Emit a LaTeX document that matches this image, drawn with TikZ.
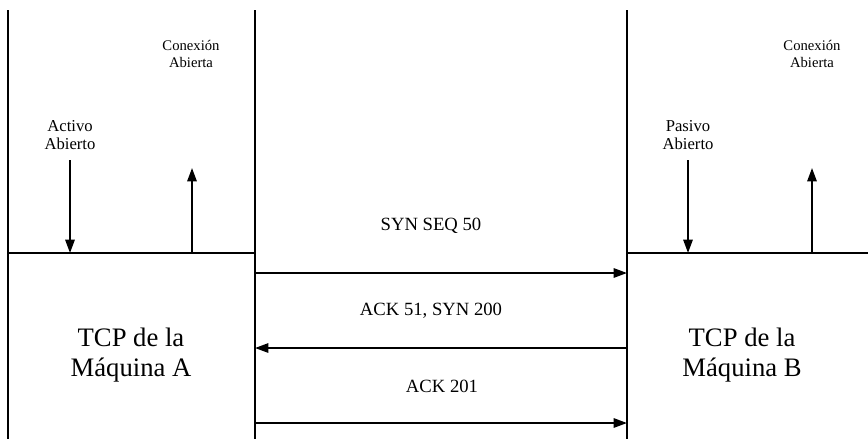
\documentclass[tikz,border=0pt]{standalone}
\usepackage{fontspec}
\setmainfont{Liberation Serif}
\usetikzlibrary{arrows.meta}
\begin{document}
\begin{tikzpicture}[x=0.75pt, y=-0.75pt, line width=1.4pt,
		msg/.style={-{Triangle[length=10pt, width=7pt]}},
		lbl/.style={align=center, inner sep=0pt, font=\fontsize{12.5}{13}\selectfont},
		clbl/.style={align=center, inner sep=0pt, font=\fontsize{11}{13}\selectfont},
		tcp/.style={align=center, inner sep=0pt, font=\fontsize{20}{22.5}\selectfont},
		txt/.style={inner sep=0pt, font=\fontsize{14}{16}\selectfont}]
			\useasboundingbox (0,0) rectangle (868,439);
			\def\Top{10}
			\def\Bot{439}
			\def\Mid{253}
			% host A
			\coordinate (A1) at (8,\Top);
			\coordinate (A2) at (8,\Bot);
			\coordinate (A3) at (255,\Top);
			\coordinate (A4) at (255,\Bot);
			\coordinate (A5) at (8,\Mid);
			\coordinate (A6) at (255,\Mid);
			\draw (A1) -- (A2);
			\draw (A3) -- (A4);
			\draw (A5) -- (A6);
			% host B
			\coordinate (B1) at (627,\Top);
			\coordinate (B2) at (627,\Bot);
			\coordinate (B5) at (627,\Mid);
			\coordinate (B6) at (868,\Mid);
			\draw (B1) -- (B2);
			\draw (B5) -- (B6);
			% local events
			\node[lbl] (actA) at (70,135) {Activo\\Abierto};
			\node[clbl] (conA) at (191,54) {Conexión\\Abierta};
			\node[lbl] (pasB) at (688,135) {Pasivo\\Abierto};
			\node[clbl] (conB) at (812,54) {Conexión\\Abierta};
			\coordinate (a1) at (70,160);
			\coordinate (a2) at (70,\Mid);
			\coordinate (c1) at (192,\Mid);
			\coordinate (c2) at (192,168);
			\coordinate (p1) at (688,160);
			\coordinate (p2) at (688,\Mid);
			\coordinate (d1) at (812,\Mid);
			\coordinate (d2) at (812,168);
			\draw[msg] (a1) -- (a2);
			\draw[msg] (c1) -- (c2);
			\draw[msg] (p1) -- (p2);
			\draw[msg] (d1) -- (d2);
			\node[tcp] (tcpA) at (131,355) {TCP de la\\Máquina A};
			\node[tcp] (tcpB) at (742,355) {TCP de la\\Máquina B};
			% segments
			\coordinate (m1) at (255,273);
			\coordinate (m2) at (627,273);
			\coordinate (m3) at (627,348);
			\coordinate (m4) at (255,348);
			\coordinate (m5) at (255,423);
			\coordinate (m6) at (627,423);
			\draw[msg] (m1) -- (m2);
			\draw[msg] (m3) -- (m4);
			\draw[msg] (m5) -- (m6);
			\node[txt] (syn) at (431,226) {SYN SEQ 50};
			\node[txt] (ack1) at (431,311) {ACK 51, SYN 200};
			\node[txt] (ack2) at (442,386) {ACK 201};
		\end{tikzpicture}
\end{document}
